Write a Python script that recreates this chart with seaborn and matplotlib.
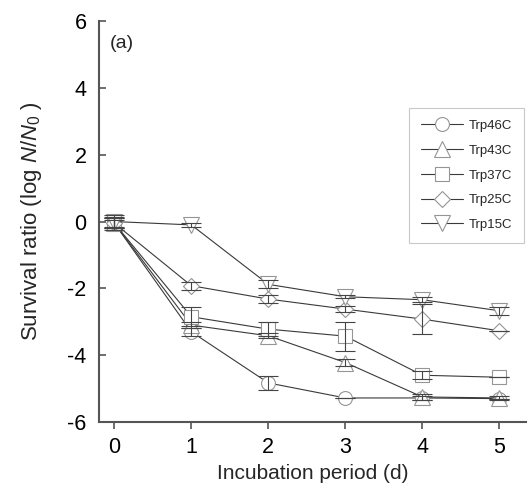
import numpy as np
import pandas as pd
import matplotlib
matplotlib.use("Agg")
import matplotlib.pyplot as plt
import seaborn as sns
from matplotlib.lines import Line2D

# --- Data ---
days = [0, 1, 2, 3, 4, 5]
strains = ["Trp46C", "Trp43C", "Trp37C", "Trp25C", "Trp15C"]
markers = ["o", "^", "s", "D", "v"]
marker_sizes = [10, 11, 10, 8, 11]

trp46c = [-0.05, -3.30, -4.83, -5.28, -5.28, -5.30]
trp43c = [-0.05, -3.10, -3.42, -4.22, -5.25, -5.28]
trp37c = [-0.05, -2.85, -3.22, -3.43, -4.60, -4.66]
trp25c = [-0.05, -1.92, -2.32, -2.62, -2.92, -3.27]
trp15c = [0.0, -0.10, -1.88, -2.25, -2.34, -2.67]

trp46c_err = [0.15, 0.12, 0.20, 0.0, 0.05, 0.0]
trp43c_err = [0.15, 0.10, 0.08, 0.10, 0.08, 0.05]
trp37c_err = [0.20, 0.28, 0.22, 0.43, 0.12, 0.0]
trp25c_err = [0.10, 0.12, 0.12, 0.10, 0.45, 0.0]
trp15c_err = [0.20, 0.05, 0.12, 0.05, 0.08, 0.12]

values = [trp46c, trp43c, trp37c, trp25c, trp15c]
errors = [trp46c_err, trp43c_err, trp37c_err, trp25c_err, trp15c_err]

rows = []
for s, v, e in zip(strains, values, errors):
    for d, y, err in zip(days, v, e):
        rows.append({"strain": s, "day": d, "ratio": y, "err": err})
df = pd.DataFrame(rows)

# --- Style ---
sns.set_style("ticks")
plt.rcParams["font.family"] = ["Liberation Sans", "DejaVu Sans"]
plt.rcParams["axes.unicode_minus"] = False
plt.rcParams["mathtext.fontset"] = "custom"
plt.rcParams["mathtext.rm"] = "Liberation Sans"
plt.rcParams["mathtext.it"] = "Liberation Sans:italic"

fig = plt.figure(figsize=(5.29, 4.91), dpi=100)
ax = fig.add_axes([0.187, 0.1405, 0.808, 0.8165])

line_col = "#3a3a3a"
mk_col = "#959595"

handles = []
for s, m, ms in zip(strains, markers, marker_sizes):
    sub = df[df["strain"] == s]
    sns.lineplot(data=sub, x="day", y="ratio", ax=ax, color=line_col,
                 linewidth=0.8, marker=m, markersize=ms,
                 markerfacecolor="white", markeredgecolor=mk_col,
                 markeredgewidth=0.8, legend=False, zorder=2)
    ax.errorbar(sub["day"], sub["ratio"], yerr=sub["err"], fmt="none",
                ecolor="#444444", elinewidth=0.8, capsize=7, capthick=0.8,
                zorder=3)
    handles.append(Line2D([0], [0], color=line_col, linewidth=0.8, marker=m,
                          markersize=ms, markerfacecolor="white",
                          markeredgecolor=mk_col, markeredgewidth=0.8))

ax.set_xlim(-0.2, 5.35)
ax.set_ylim(-6, 6)
ax.set_xticks(days)
ax.set_yticks([-6, -4, -2, 0, 2, 4, 6])
ax.tick_params(axis="y", direction="in", length=5, labelsize=15.5, colors="#555555",
               labelcolor="black", width=1.2, pad=9)
ax.tick_params(axis="x", direction="out", length=5, labelsize=15.5, colors="#555555",
               labelcolor="black", width=1.2, pad=6)
sns.despine(ax=ax)
for sp in ["left", "bottom"]:
    ax.spines[sp].set_color("#555555")
    ax.spines[sp].set_linewidth(1.5)

ax.set_xlabel("Incubation period (d)", fontsize=15)
ax.set_ylabel(r"Survival ratio (log $\mathit{N}/\mathit{N}_0$ )", fontsize=16,
              labelpad=17)

ax.text(0.025, 0.965, "(a)", transform=ax.transAxes, fontsize=14,
        ha="left", va="top")

leg = ax.legend(handles, strains, loc="upper left",
                bbox_to_anchor=(0.71, 0.80), fontsize=9.5, frameon=True,
                fancybox=False, edgecolor="#bbbbbb", handlelength=3.2,
                labelspacing=0.95, borderpad=0.9, handletextpad=0.4)
leg.get_frame().set_linewidth(0.8)

fig.savefig("out.png", dpi=100)
